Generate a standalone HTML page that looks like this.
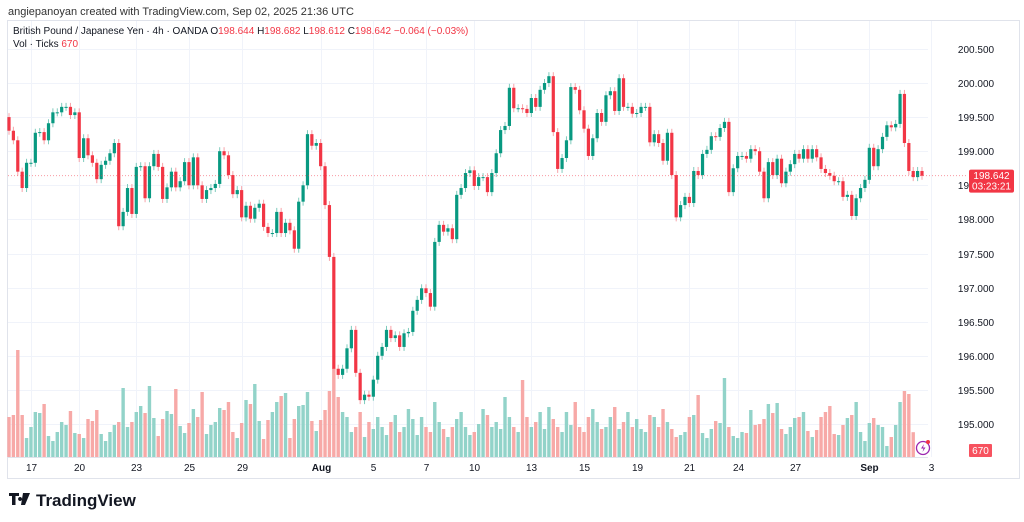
<!DOCTYPE html>
<html><head><meta charset="utf-8">
<style>
html,body{margin:0;padding:0;background:#fff;width:1024px;height:522px;overflow:hidden;font-family:"Liberation Sans",sans-serif;}
svg text{font-family:"Liberation Sans",sans-serif;}
</style></head>
<body>
<svg id="chart" width="1024" height="522" xmlns="http://www.w3.org/2000/svg">
  <text x="8" y="15" font-size="11" fill="#333">angiepanoyan created with TradingView.com, Sep 02, 2025 21:36 UTC</text>
  <rect x="7.5" y="20.5" width="1012" height="458" fill="none" stroke="#e0e3eb"/>
  <g id="grid"></g>
  <g id="vol"></g>
  <g id="candles"></g>
  <g id="yaxis"></g>
  <g id="xaxis"></g>
  <g font-size="10">
    <text x="13" y="34" fill="#131722">British Pound / Japanese Yen · 4h · OANDA <tspan fill="#131722">O</tspan><tspan fill="#f23645">198.644</tspan> <tspan fill="#131722"> H</tspan><tspan fill="#f23645">198.682</tspan> <tspan fill="#131722"> L</tspan><tspan fill="#f23645">198.612</tspan> <tspan fill="#131722"> C</tspan><tspan fill="#f23645">198.642 −0.064 (−0.03%)</tspan></text>
    <text x="13" y="47" fill="#131722">Vol · Ticks <tspan fill="#f23645">670</tspan></text>
  </g>
  <g>
    <path d="M9 493h10v3h-3.5v9h-3.5v-9h-3z M20 497a2 2 0 1 0 0.1 0z M23 493h7l-5 12h-4z" fill="#131722"/>
    <text x="36" y="506" font-size="17" font-weight="bold" fill="#131722">TradingView</text>
  </g>
  <g>
    <circle cx="923" cy="448" r="6.5" fill="#fff" stroke="#9c27b0" stroke-width="1.3"/>
    <path d="M924 444l-3 4.5h2.5l-1 3.5 3-4.5h-2.5z" fill="#9c27b0"/>
    <circle cx="928" cy="442" r="2" fill="#f23645"/>
  </g>
</svg>
<script>
const firstOpen = 199.50;
const closes = [
199.30,199.16,198.70,198.46,198.83,198.83,199.27,199.28,199.16,199.41,
199.57,199.57,199.65,199.65,199.53,199.57,198.90,199.19,198.94,198.83,
198.59,198.80,198.86,198.97,199.12,197.90,198.11,198.46,198.08,198.77,
198.78,198.31,198.78,198.96,198.77,198.30,198.47,198.70,198.47,198.56,
198.84,198.50,198.91,198.50,198.30,198.43,198.46,198.52,199.00,198.94,
198.65,198.37,198.43,198.03,198.20,198.01,198.17,198.23,197.89,197.80,
197.80,198.11,197.80,197.95,197.84,197.57,198.26,198.50,199.25,199.08,
199.12,198.78,198.21,197.45,195.81,195.72,195.81,196.11,196.38,195.75,
195.35,195.43,195.40,195.65,
196.00,196.13,196.38,196.26,196.30,196.13,196.33,196.35,196.66,196.82,
196.99,196.92,196.72,197.67,197.92,197.82,197.87,197.71,198.36,198.46,
198.68,198.72,198.49,198.62,198.62,198.40,198.68,198.97,199.31,199.37,
199.93,199.63,199.63,199.62,199.56,199.78,199.65,199.90,200.00,200.10,
199.28,198.74,198.90,199.16,199.94,199.90,199.60,199.33,198.93,199.19,
199.56,199.43,199.82,199.88,199.59,200.07,199.65,199.65,199.55,199.56,
199.65,199.65,199.13,199.25,199.12,198.86,199.27,198.65,198.03,198.21,
198.33,198.24,198.71,198.65,198.96,199.02,199.22,199.21,199.34,199.43,
198.40,198.75,
198.93,198.93,198.89,199.03,199.00,198.70,198.31,198.84,198.65,198.89,
198.53,198.70,198.81,198.96,198.89,199.03,198.89,199.03,198.91,198.74,
198.68,198.64,198.56,198.56,198.33,198.36,198.05,198.31,198.46,198.58,
199.05,198.78,199.03,199.21,199.38,199.35,199.40,199.84,199.12,198.71,
198.62,198.71,198.64];
const volumes = [
1080,1134,2889,1134,513,810,1215,1188,1431,567,432,675,945,864,1242,648,621,513,1026,972,
1269,621,432,675,864,945,1863,810,945,1215,1377,1188,1917,1053,567,1026,1242,1161,1836,837,
648,918,1296,1080,1755,621,864,945,1323,1269,1485,675,513,918,1539,1431,1971,972,486,999,
1215,1485,1647,1728,513,1026,1377,1404,1755,972,702,999,1269,1782,2403,
1620,1215,1080,675,810,1215,540,945,756,1080,810,594,945,1134,675,810,1296,1026,594,
1080,810,675,1485,945,756,540,810,1026,1215,810,594,675,891,1296,1134,810,945,756,1620,
1080,810,675,2079,1080,810,945,1215,756,1350,1026,810,675,1215,864,1485,810,675,1080,1296,
945,756,810,1080,1350,756,945,1215,810,1026,756,675,1134,1080,810,1296,945,756,
540,594,675,1080,1134,1674,648,513,756,972,918,2133,810,567,513,675,648,1269,864,891,
1026,1431,1188,1458,756,621,810,1053,1080,1215,702,540,729,1080,1215,1377,621,594,864,1053,
1134,1485,675,432,918,1053,864,810,297,540,864,1485,1782,1701,670];
const priceTicks = [195.0,195.5,196.0,196.5,197.0,197.5,198.0,198.5,199.0,199.5,200.0,200.5];
const dateLabels = ["17","20","23","25","29","Aug","5","7","10","13","15","19","21","24","27","Sep","3"];
const dateCandleIdx = [5,16,29,41,53,71,83,95,106,119,131,143,155,166,179,196,210];
const lastPrice = 198.642;

const NS="http://www.w3.org/2000/svg";
function mk(tag,attrs,parent){const e=document.createElementNS(NS,tag);for(const k in attrs)e.setAttribute(k,attrs[k]);parent.appendChild(e);return e;}
const yP = p => 83 + (200 - p) * 68.2;
const X0 = 9, STEP = (922 - 9) / 208;
const xI = i => X0 + i * STEP;
const yV = v => 457 - v / 27;
const G=document.getElementById('grid'),V=document.getElementById('vol'),C=document.getElementById('candles'),YA=document.getElementById('yaxis'),XA=document.getElementById('xaxis');

priceTicks.forEach(p=>{
  const y=Math.round(yP(p))+0.5;
  const l=mk('line',{x1:8,x2:928,y1:y,y2:y,stroke:'#f0f3fa'},G);
  
  
  const t=mk('text',{x:976,y:y+3.5,'font-size':10,fill:'#131722','text-anchor':'middle'},YA);
  t.textContent=p.toFixed(3);
  
  
});
dateLabels.forEach((d,k)=>{
  const x=Math.round(xI(dateCandleIdx[k]))+0.5;
  const l=mk('line',{x1:x,x2:x,y1:21,y2:457,stroke:'#f0f3fa'},G);
  
  
  const bold=(d==='Aug'||d==='Sep');
  const t=mk('text',{x:x,y:471,'font-size':10,fill:'#131722','text-anchor':'middle','font-weight':bold?'bold':'normal'},XA);
  t.textContent=d;
  
  
});
mk('line',{x1:8,x2:928,y1:457.5,y2:457.5,stroke:'#e0e3eb'},G);

for(let i=0;i<closes.length;i++){
  const o=i===0?firstOpen:closes[i-1], c=closes[i];
  const up=c>=o;
  const col=up?'#089981':'#f23645';
  const x=xI(i);
  const top=yP(Math.max(o,c)), bot=yP(Math.min(o,c));
  const w=mk('line',{x1:x,x2:x,y1:top-4,y2:bot+4,stroke:up?'#7fcbbd':'#f7a3a9','stroke-width':1},C);
  
  
  const b=mk('rect',{x:x-1.6,y:top,width:3.2,height:Math.max(1,bot-top),fill:col},C);
  
  
  if(i<volumes.length){
    const vy=yV(volumes[i]);
    const vb=mk('rect',{x:x-1.7,y:vy,width:3.4,height:457-vy,fill:up?'#92d3c9':'#f7a9a7'},V);
    
    
  }
}
const ly=yP(lastPrice);
const pl=mk('line',{x1:8,x2:968,y1:ly,y2:ly,stroke:'#f23645','stroke-dasharray':'1 2','stroke-opacity':0.5},C);


const lb=mk('rect',{x:969,y:ly-6,width:45,height:23,rx:2,fill:'#f23645'},YA);


const lt=mk('text',{x:991.5,y:ly+3.5,'font-size':10,fill:'#fff','text-anchor':'middle'},YA);
lt.textContent=lastPrice.toFixed(3);


const ct=mk('text',{x:991.5,y:ly+14,'font-size':10,fill:'#fff','text-anchor':'middle'},YA);
ct.textContent='03:23:21';


const vbx=mk('rect',{x:969,y:444,width:23,height:13,rx:1,fill:'#f7525f'},YA);


const vt=mk('text',{x:980.5,y:454,'font-size':10,fill:'#fff','text-anchor':'middle'},YA);
vt.textContent=String(volumes[volumes.length-1]);


</script>
</body></html>
